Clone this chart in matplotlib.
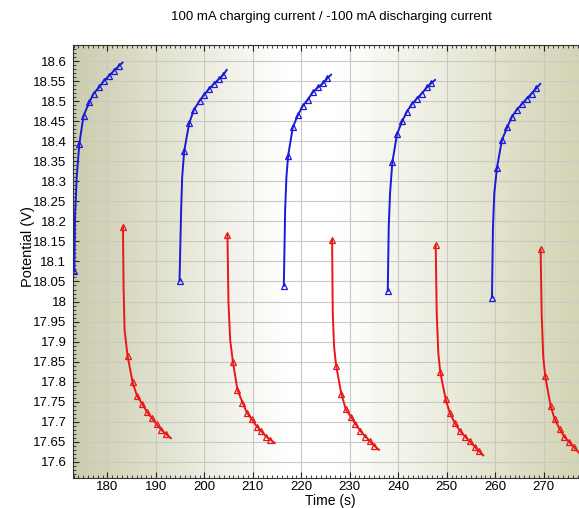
import numpy as np
import matplotlib
matplotlib.use("Agg")
import matplotlib.pyplot as plt
from matplotlib.ticker import MultipleLocator, FuncFormatter

plt.rcParams['font.family'] = ['Liberation Sans', 'DejaVu Sans']

# charging curves (100 mA), time in s, potential in V
charge_t = [
    [173.16, 173.3, 173.65, 174.19, 175.07, 176.25, 177.14, 178.25, 179.2, 180.3, 181.26, 182.37, 183.1],
    [194.87, 195.2, 195.42, 195.84, 196.87, 197.83, 199.0, 199.9, 200.99, 201.96, 202.98, 203.94, 204.6],
    [216.39, 216.66, 216.93, 217.28, 218.25, 219.28, 220.31, 221.34, 222.37, 223.4, 224.43, 225.38, 226.14],
    [237.84, 238.04, 238.31, 238.78, 239.75, 240.85, 241.81, 242.78, 243.81, 244.85, 245.88, 246.76, 247.59],
    [259.34, 259.55, 259.82, 260.37, 261.4, 262.49, 263.46, 264.43, 265.46, 266.49, 267.53, 268.48, 269.3],
]
charge_v = [
    [18.075, 18.21, 18.31, 18.393, 18.464, 18.497, 18.519, 18.534, 18.55, 18.563, 18.575, 18.588, 18.596],
    [18.052, 18.228, 18.311, 18.376, 18.445, 18.478, 18.501, 18.515, 18.531, 18.543, 18.555, 18.566, 18.578],
    [18.039, 18.228, 18.311, 18.364, 18.435, 18.465, 18.488, 18.504, 18.522, 18.534, 18.544, 18.557, 18.566],
    [18.026, 18.187, 18.27, 18.347, 18.418, 18.451, 18.474, 18.492, 18.506, 18.519, 18.534, 18.544, 18.553],
    [18.01, 18.187, 18.27, 18.334, 18.403, 18.435, 18.461, 18.478, 18.492, 18.506, 18.519, 18.532, 18.543],
]

# discharging curves (-100 mA)
discharge_t = [
    [183.2, 183.32, 183.53, 184.14, 185.18, 186.08, 187.18, 188.14, 189.18, 190.12, 191.09, 192.12, 193.09],
    [204.76, 204.97, 205.32, 205.88, 206.82, 207.86, 208.76, 209.79, 210.82, 211.77, 212.74, 213.63, 214.54],
    [226.35, 226.49, 226.76, 227.18, 228.27, 229.18, 230.21, 231.16, 232.19, 233.22, 234.19, 235.07, 236.04],
    [247.73, 247.94, 248.27, 248.68, 249.79, 250.68, 251.71, 252.74, 253.77, 254.8, 255.77, 256.72, 257.55],
    [269.38, 269.59, 269.92, 270.33, 271.44, 272.27, 273.3, 274.25, 275.28, 276.25, 277.28],
]
discharge_v = [
    [18.187, 18.037, 17.929, 17.865, 17.799, 17.765, 17.744, 17.725, 17.709, 17.694, 17.68, 17.669, 17.659],
    [18.166, 17.996, 17.904, 17.85, 17.78, 17.748, 17.723, 17.706, 17.688, 17.676, 17.663, 17.655, 17.647],
    [18.154, 17.971, 17.888, 17.84, 17.769, 17.731, 17.713, 17.695, 17.677, 17.663, 17.651, 17.64, 17.63],
    [18.141, 17.971, 17.871, 17.823, 17.756, 17.721, 17.696, 17.677, 17.663, 17.651, 17.638, 17.626, 17.616],
    [18.13, 17.971, 17.863, 17.813, 17.74, 17.707, 17.682, 17.663, 17.649, 17.637, 17.623],
]

fig = plt.figure(figsize=(5.79, 5.08), dpi=100)
ax = fig.add_axes([0.1266, 0.0585, 0.8734, 0.8529])

# background gradient: khaki at the edges, white around the middle
stops = [0.0, 0.42, 0.52, 1.0]
cols = np.array([[0.80, 0.80, 0.68], [1.0, 1.0, 1.0], [1.0, 1.0, 1.0], [0.83, 0.83, 0.71]])
xs = np.linspace(0, 1, 400)
grad = np.stack([np.interp(xs, stops, cols[:, i]) for i in range(3)], axis=-1)[None, :, :]
ax.imshow(grad, extent=[0, 1, 0, 1], transform=ax.transAxes, aspect='auto', zorder=0)

blue = '#1a1ad8'
red = '#e81818'


def marks(n):
    # markers on the sampled points; the two steep shape points and the end are line only
    return [0] + list(range(3, n - 1))


for t, v in zip(charge_t, charge_v):
    ax.plot(t, v, color=blue, lw=1.4, marker='^', ms=4.5, mfc='none', mec=blue,
            mew=0.9, markevery=marks(len(t)), zorder=3)

for t, v in zip(discharge_t, discharge_v):
    ax.plot(t, v, color=red, lw=1.4, marker='^', ms=4.5, mfc='none', mec=red,
            mew=0.9, markevery=marks(len(t)), zorder=3)

ax.set_xlim(172.95, 277.3)
ax.set_ylim(17.559, 18.64)

ax.xaxis.set_major_locator(MultipleLocator(10))
ax.xaxis.set_minor_locator(MultipleLocator(1))
ax.yaxis.set_major_locator(MultipleLocator(0.05))
ax.yaxis.set_minor_locator(MultipleLocator(0.01))
ax.yaxis.set_major_formatter(FuncFormatter(lambda y, p: f"{y:.2f}".rstrip('0').rstrip('.')))

ax.grid(True, which='major', color='#c8c8c4', lw=0.8, zorder=1)
ax.set_axisbelow(True)
ax.tick_params(which='both', direction='in', top=True, right=False, labelsize=9.5, colors='#222222',
               labelcolor='black')
ax.tick_params(which='major', length=4)
ax.tick_params(axis='y', which='major', pad=5)
ax.tick_params(axis='x', which='major', pad=2)
ax.tick_params(which='minor', length=2)
for side in ['left', 'bottom', 'top']:
    ax.spines[side].set_color('#333333')
ax.spines['right'].set_visible(False)

fig.text(0.572, 0.966, '100 mA charging current / -100 mA discharging current',
         ha='center', va='center', fontsize=9.5)
fig.text(0.571, 0.0, 'Time (s)', ha='center', va='bottom', fontsize=10)
fig.text(0.048, 0.515, 'Potential (V)', ha='center', va='center', rotation=90, fontsize=10.5)

fig.savefig('out.png', dpi=100)
